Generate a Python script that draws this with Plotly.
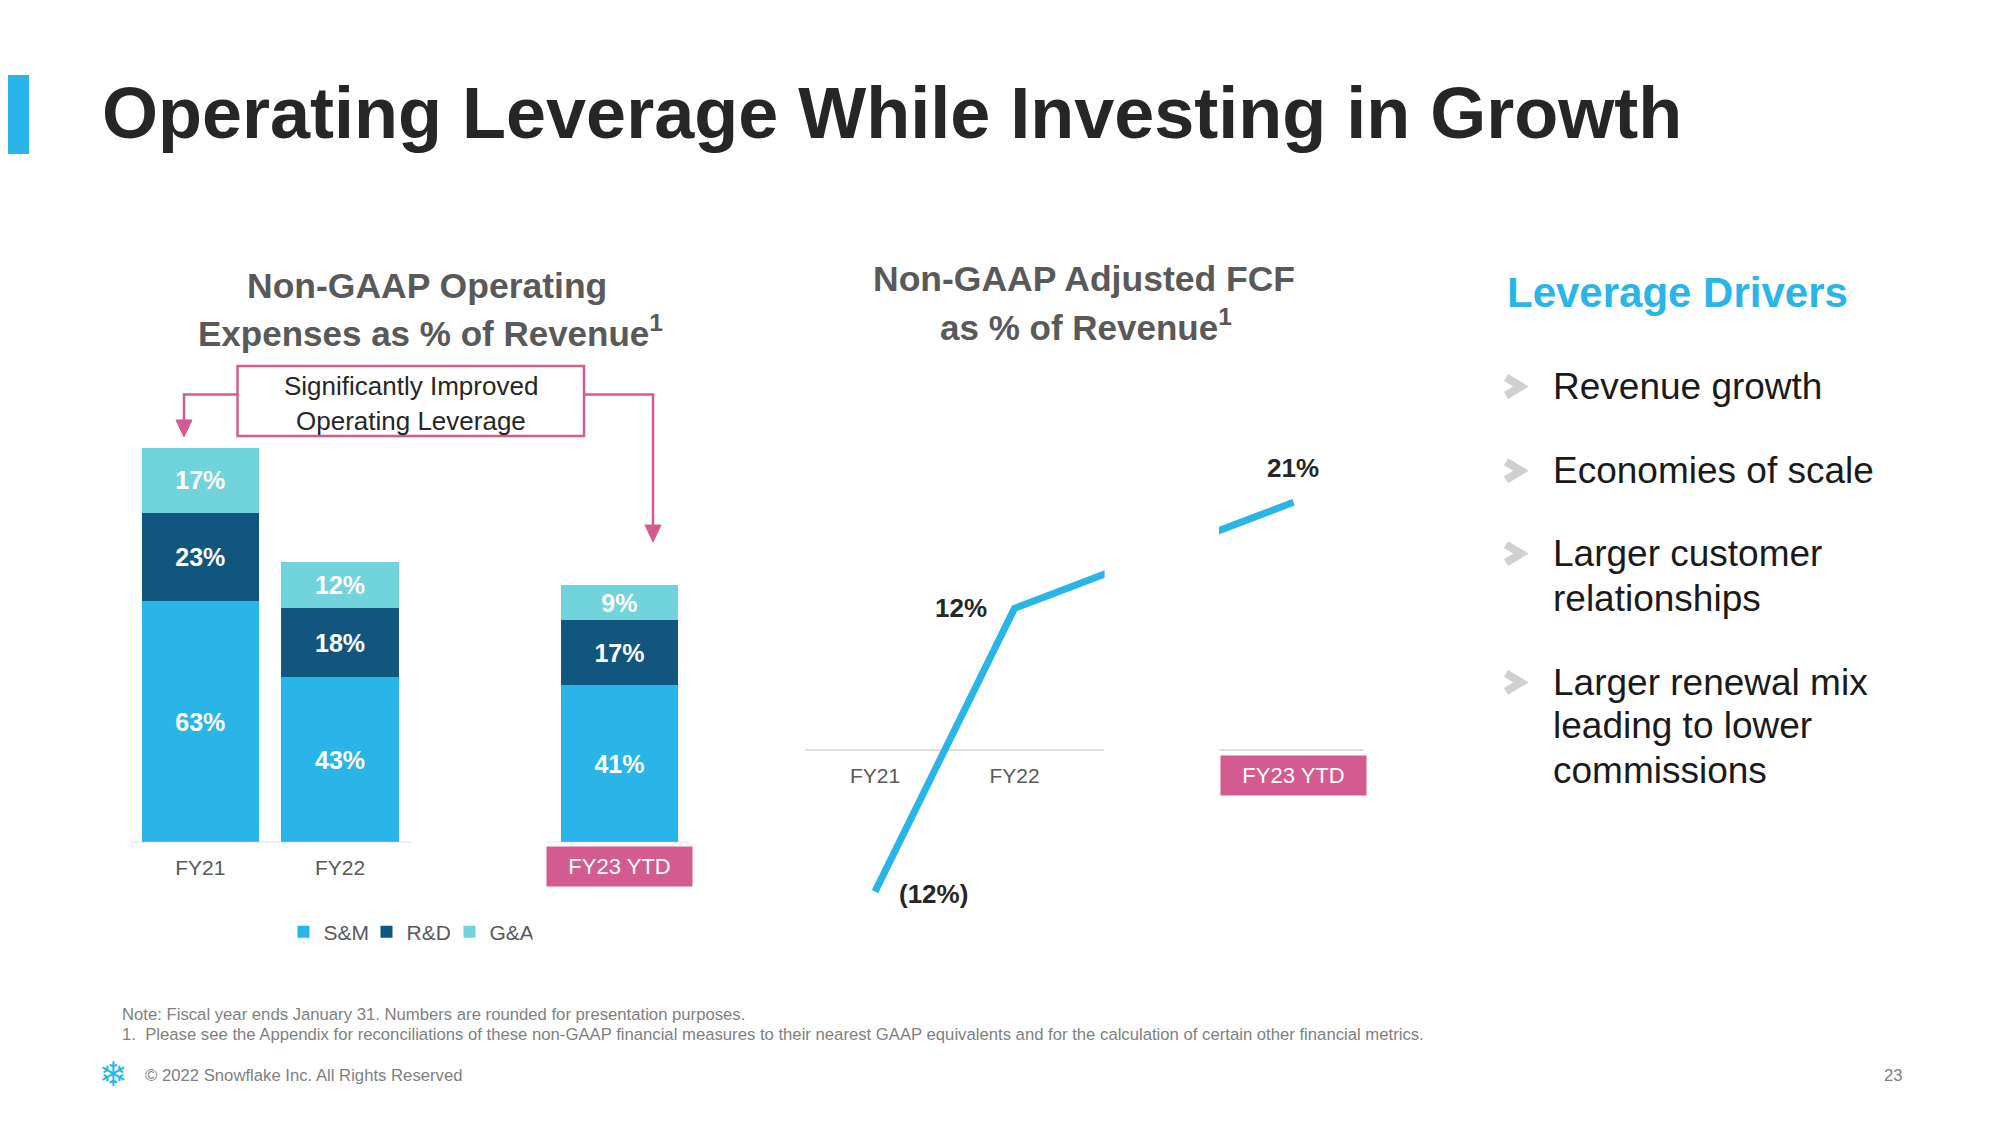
import plotly.graph_objects as go

# ---------------- data ----------------
categories = ["FY21", "FY22", "FY23 YTD"]
slot_order = ["FY21", "FY22", " ", "FY23 YTD"]
sm_pct = [63, 43, 41]
rd_pct = [23, 18, 17]
ga_pct = [17, 12, 9]
series_names = ["S&M", "R&D", "G&A"]

fcf_cats = ["FY21", "FY22", "FY23 YTD"]
fcf_pct = [-12, 12, 21]
fcf_labels = ["(12%)", "12%", "21%"]

drivers = [
    ["Revenue growth"],
    ["Economies of scale"],
    ["Larger customer", "relationships"],
    ["Larger renewal mix", "leading to lower", "commissions"],
]

# ---------------- style ----------------
W, H = 2000, 1125
OX, OY = 8, 8  # page body margin compensation
FONT = "Liberation Sans, Arial, sans-serif"
BLUE = "#29B5E8"
NAVY = "#11567F"
TEAL = "#71D3DC"
PINK = "#D45B8F"
GRAY_T = "#595959"
AXIS = "#BFBFBF"


def px(x):
    return (x - OX) / W


def py(y):
    return 1 - (y - OY) / H


fig = go.Figure()

colors = [BLUE, NAVY, TEAL]
for name, vals, col in zip(series_names, [sm_pct, rd_pct, ga_pct], colors):
    fig.add_trace(go.Bar(
        x=categories, y=vals, name=name, marker_color=col, marker_line_width=0,
        texttemplate="%{y}%", textposition="inside", insidetextanchor="middle",
        constraintext="none",
        textfont=dict(family=FONT, size=25, color="white", weight="bold"),
        xaxis="x", yaxis="y", hoverinfo="skip",
    ))

fig.add_trace(go.Scatter(
    x=fcf_cats, y=fcf_pct, mode="lines", line=dict(color=BLUE, width=7),
    xaxis="x2", yaxis="y2", showlegend=False, hoverinfo="skip",
))

shapes = []
annotations = []

# accent bar at the left of the title
shapes.append(dict(type="rect", xref="paper", yref="paper", x0=px(0), x1=px(29),
                   y0=py(154), y1=py(75), fillcolor=BLUE, line_width=0, layer="above"))

# bar chart baselines (broken axis)
for a, b in [(-0.5, 1.51), (2.48, 3.5)]:
    shapes.append(dict(type="line", xref="x", yref="y", x0=a, x1=b, y0=0, y1=0,
                       line=dict(color=AXIS, width=1.2), layer="above"))

# line chart: break in the line + broken zero axis
shapes.append(dict(type="rect", xref="x2", yref="paper", x0=1.646, x1=2.466,
                   y0=py(915), y1=py(465), fillcolor="white", line_width=0, layer="above"))
for a, b in [(-0.51, 1.646), (2.466, 3.52)]:
    shapes.append(dict(type="line", xref="x2", yref="y2", x0=a, x1=b, y0=0, y1=0,
                       line=dict(color=AXIS, width=1.2), layer="below"))

# callout box with arrows
shapes.append(dict(type="rect", xref="paper", yref="paper", x0=px(237.5), x1=px(584),
                   y0=py(436), y1=py(366), line=dict(color=PINK, width=2.5),
                   fillcolor="white", layer="above"))


def path(points, close=False):
    s = "M " + " L ".join(f"{px(x):.5f},{py(y):.5f}" for x, y in points)
    return s + (" Z" if close else "")


shapes.append(dict(type="path", xref="paper", yref="paper",
                   path=path([(237.5, 394.5), (184, 394.5), (184, 421)]),
                   line=dict(color=PINK, width=2.5), layer="above"))
shapes.append(dict(type="path", xref="paper", yref="paper",
                   path=path([(176, 420), (192, 420), (184, 437)], close=True),
                   fillcolor=PINK, line=dict(color=PINK, width=1), layer="above"))
shapes.append(dict(type="path", xref="paper", yref="paper",
                   path=path([(584, 394.5), (653, 394.5), (653, 526)]),
                   line=dict(color=PINK, width=2.5), layer="above"))
shapes.append(dict(type="path", xref="paper", yref="paper",
                   path=path([(645, 525), (661, 525), (653, 542)], close=True),
                   fillcolor=PINK, line=dict(color=PINK, width=1), layer="above"))


def text(x, y, s, size, color, bold=False, anchor="left", **kw):
    annotations.append(dict(
        xref="paper", yref="paper", x=px(x), y=py(y), text=s, showarrow=False,
        xanchor=anchor, yanchor="middle",
        font=dict(family=FONT, size=size, color=color, weight="bold" if bold else "normal"),
        **kw))


# main title
text(100, 113, "Operating Leverage While Investing in Growth", 72, "#262626", bold=True)

# chart titles
text(427, 286, "Non-GAAP Operating", 35.5, GRAY_T, bold=True, anchor="center")
text(430, 331, "Expenses as % of Revenue<sup>1</sup>", 35, GRAY_T, bold=True, anchor="center")
text(1084, 279, "Non-GAAP Adjusted FCF", 35.5, GRAY_T, bold=True, anchor="center")
text(1086, 325, "as % of Revenue<sup>1</sup>", 35, GRAY_T, bold=True, anchor="center")

# callout text
text(410.5, 386, "Significantly Improved", 26, "#262626", anchor="center")
text(410.5, 421, "Operating Leverage", 26, "#262626", anchor="center")

# FY23 YTD highlighted category labels
annotations.append(dict(xref="x", yref="paper", x=categories[2], y=py(866.5), text=categories[2],
                        showarrow=False, xanchor="center", yanchor="middle", width=145, height=39,
                        bgcolor=PINK, borderpad=0,
                        font=dict(family=FONT, size=22, color="white")))
annotations.append(dict(xref="x2", yref="paper", x=fcf_cats[2], y=py(775.5), text=fcf_cats[2],
                        showarrow=False, xanchor="center", yanchor="middle", width=145, height=39,
                        bgcolor=PINK, borderpad=0,
                        font=dict(family=FONT, size=22, color="white")))

# line value labels
shifts = [(58, -2), (-54, 0), (-1, 34)]
for c, v, lab, (dx, dy) in zip(fcf_cats, fcf_pct, fcf_labels, shifts):
    annotations.append(dict(xref="x2", yref="y2", x=c, y=v, text=lab, showarrow=False,
                            xshift=dx, yshift=dy, xanchor="center", yanchor="middle",
                            font=dict(family=FONT, size=26, color="#262626", weight="bold")))

# right panel
text(1505, 292, "Leverage Drivers", 42, BLUE, bold=True)
line_ys = [[386.5], [470.7], [553.6, 598], [682.4, 725.8, 770.4]]
for item, ys in zip(drivers, line_ys):
    y0 = ys[0]
    shapes.append(dict(type="path", xref="paper", yref="paper",
                       path=path([(1506, y0 - 9), (1521, y0), (1506, y0 + 9)]),
                       line=dict(color="#D0D0D0", width=8), layer="above"))
    for ln, yy in zip(item, ys):
        text(1551, yy, ln, 37, "#1A1A1A")

# footnotes
NOTE = "#7F7F7F"
text(120, 1014, "Note: Fiscal year ends January 31. Numbers are rounded for presentation purposes.", 16.7, NOTE)
text(120, 1034, "1.  Please see the Appendix for reconciliations of these non-GAAP financial measures to their "
     "nearest GAAP equivalents and for the calculation of certain other financial metrics.", 16.7, NOTE)
text(113, 1074, "❄", 34, BLUE, anchor="center")
text(143, 1075, "© 2022 Snowflake Inc. All Rights Reserved", 16.7, NOTE)
text(1893, 1075, "23", 16.7, NOTE, anchor="center")

fig.update_layout(
    width=W, height=H, margin=dict(l=0, r=0, t=0, b=0),
    paper_bgcolor="white", plot_bgcolor="white",
    barmode="stack", bargap=0.16,
    font=dict(family=FONT, color=GRAY_T),
    xaxis=dict(domain=[px(130.45), px(689.25)], type="category", categoryorder="array",
               categoryarray=slot_order, range=[-0.5, 3.5], tickvals=categories[:2],
               showline=False, showgrid=False, zeroline=False, ticks="", ticklabelstandoff=11,
               tickfont=dict(family=FONT, size=21, color=GRAY_T), anchor="y"),
    yaxis=dict(domain=[py(842.3), py(440)], range=[0, (842.3 - 440) / 3.833],
               visible=False, showgrid=False, zeroline=False, anchor="x"),
    xaxis2=dict(domain=[px(805.25), px(1363.25)], type="category", categoryorder="array",
                categoryarray=slot_order, range=[-0.5, 3.5], tickvals=fcf_cats[:2],
                showline=False, showgrid=False, zeroline=False, ticks="", ticklabelstandoff=11,
                tickfont=dict(family=FONT, size=21, color=GRAY_T),
                anchor="free", position=py(750)),
    yaxis2=dict(domain=[py(910), py(470)], range=[-(910 - 750) / 11.8, (750 - 470) / 11.8],
                visible=False, showgrid=False, zeroline=False, anchor="x2"),
    legend=dict(orientation="h", x=px(408), y=py(932), xanchor="center", yanchor="middle",
                traceorder="normal", font=dict(family=FONT, size=21, color=GRAY_T),
                itemwidth=30, entrywidth=38, entrywidthmode="pixels", bgcolor="rgba(0,0,0,0)"),
    shapes=shapes, annotations=annotations,
)

fig.write_html("out.html")
